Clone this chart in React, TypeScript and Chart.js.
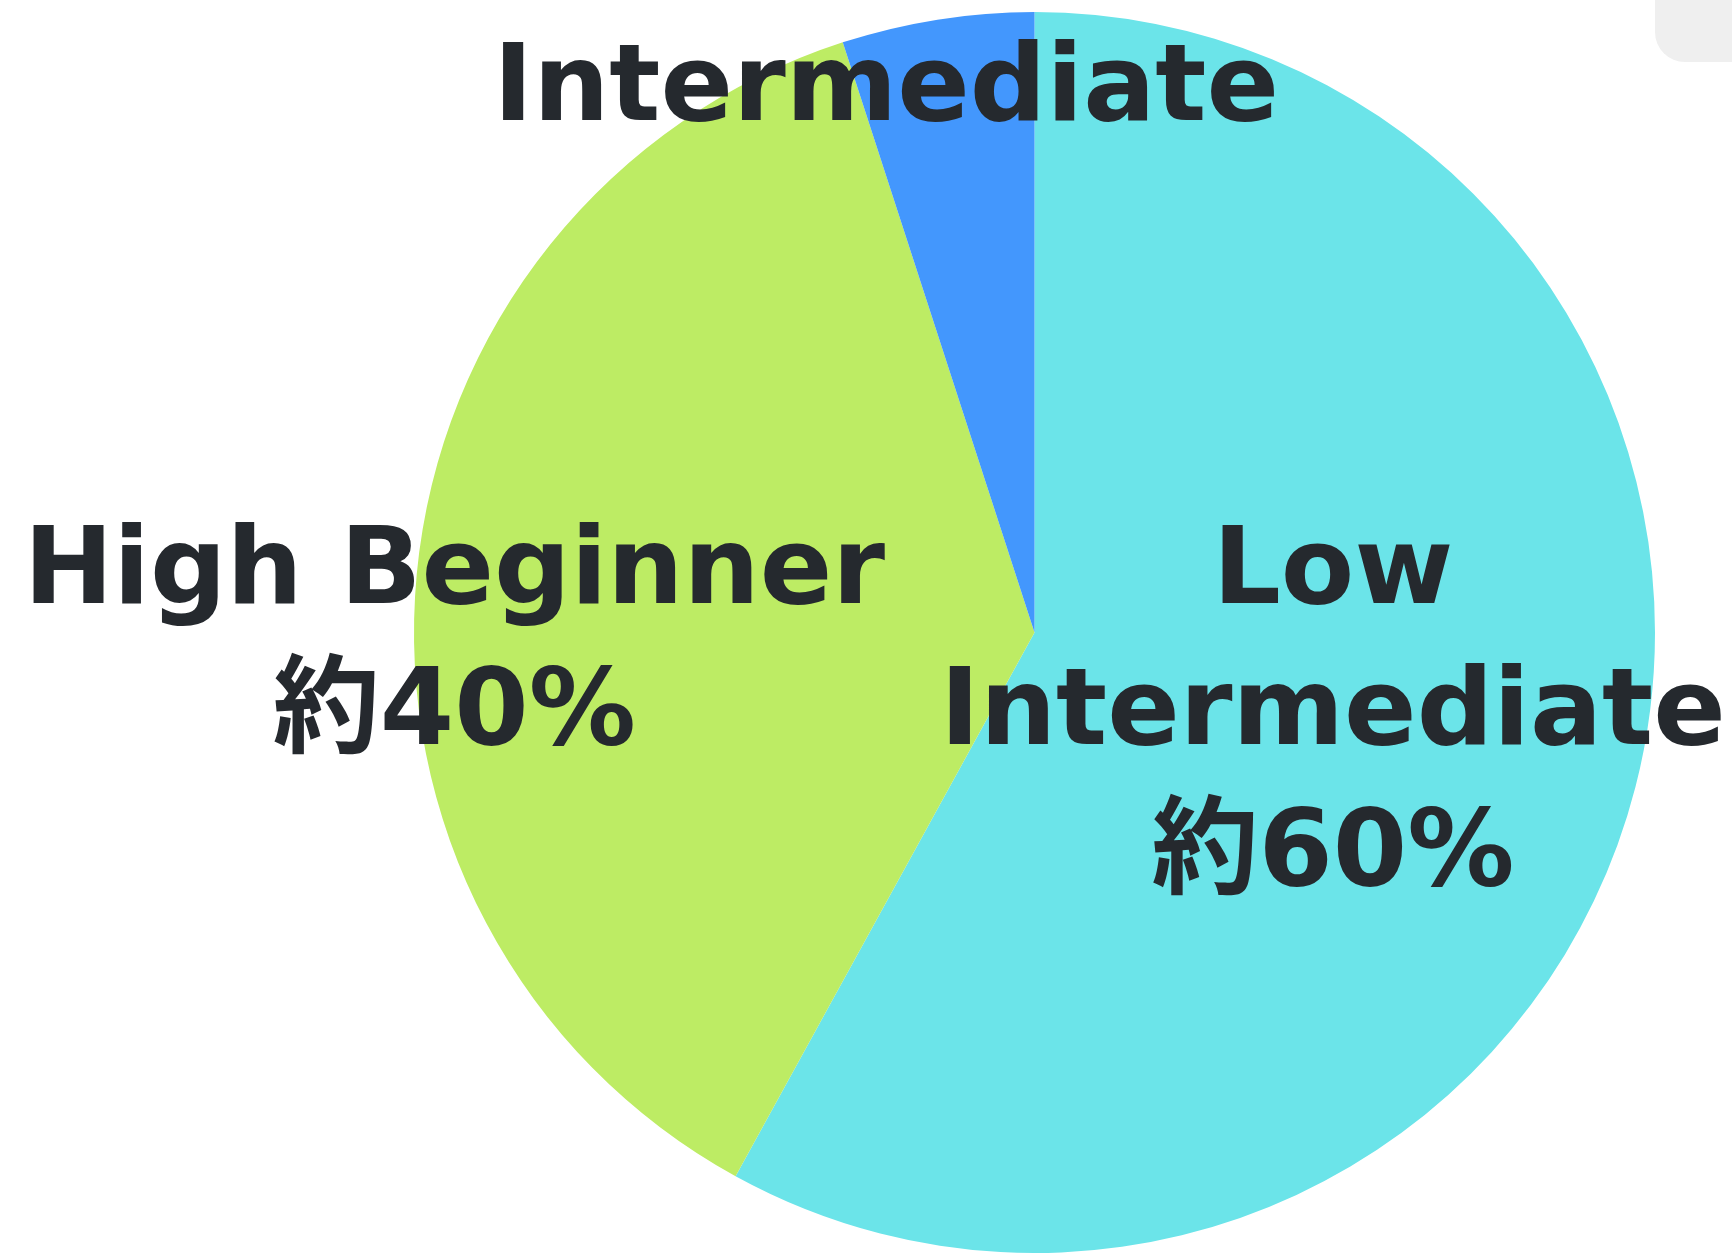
import React, { useEffect, useRef } from "react";
import { Chart, registerables } from "chart.js";

Chart.register(...registerables);

const categories = ["Low Intermediate", "High Beginner", "Intermediate"];
const shares = [58, 37, 5];
const labelLines = [
  ["Low", "Intermediate", "約60%"],
  ["High Beginner", "約40%"],
  ["Intermediate"],
];
const sliceColors = ["#6be4e9", "#bdec64", "#4397fd"];

// label anchor offsets relative to pie centre, in units of radius (styles)
const labelAnchors = [
  { dx: 0.481, dy: -0.048 },
  { dx: -0.935, dy: -0.048 },
  { dx: -0.239, dy: -0.826 },
];

const FONT_SIZE = 107;
const LINE_HEIGHT = 141;
const FONT_FAMILY = '"DejaVu Sans", "Noto Sans CJK JP", sans-serif';

const labelPlugin = {
  id: "bigLabels",
  afterDatasetsDraw(chart: any) {
    const meta = chart.getDatasetMeta(0);
    const arc = meta.data[0];
    if (!arc) return;
    const { x, y, outerRadius } = arc.getProps(["x", "y", "outerRadius"], true);
    const ctx = chart.ctx;
    ctx.save();
    ctx.fillStyle = "#25292e";
    ctx.font = `bold ${FONT_SIZE}px ${FONT_FAMILY}`;
    ctx.textAlign = "center";
    ctx.textBaseline = "alphabetic";
    labelLines.forEach((lines, i) => {
      const a = labelAnchors[i];
      const cx = x + a.dx * outerRadius;
      const by = y + a.dy * outerRadius;
      lines.forEach((line, j) => {
        ctx.fillText(line, cx, by + j * LINE_HEIGHT);
      });
    });
    ctx.restore();
  },
};

export default function App() {
  const canvasRef = useRef<HTMLCanvasElement | null>(null);

  useEffect(() => {
    document.body.style.margin = "0";
    const canvas = canvasRef.current;
    if (!canvas) return;
    const chart = new Chart(canvas, {
      type: "pie",
      data: {
        labels: categories,
        datasets: [
          {
            data: shares,
            backgroundColor: sliceColors,
            borderWidth: 0,
          },
        ],
      },
      options: {
        animation: false,
        responsive: false,
        devicePixelRatio: 1,
        layout: { padding: { left: 414, right: 77, top: 12, bottom: 0 } },
        plugins: {
          legend: { display: false },
          tooltip: { enabled: false },
        },
      },
      plugins: [labelPlugin],
    });
    return () => chart.destroy();
  }, []);

  return (
    <div
      style={{
        position: "relative",
        width: 1732,
        height: 1253,
        overflow: "hidden",
        background: "#ffffff",
      }}
    >
      <canvas ref={canvasRef} width={1732} height={1253} style={{ display: "block" }} />
      <div
        style={{
          position: "absolute",
          left: 1655,
          top: -40,
          width: 140,
          height: 102,
          borderRadius: 30,
          background: "#efefef",
        }}
      />
    </div>
  );
}
